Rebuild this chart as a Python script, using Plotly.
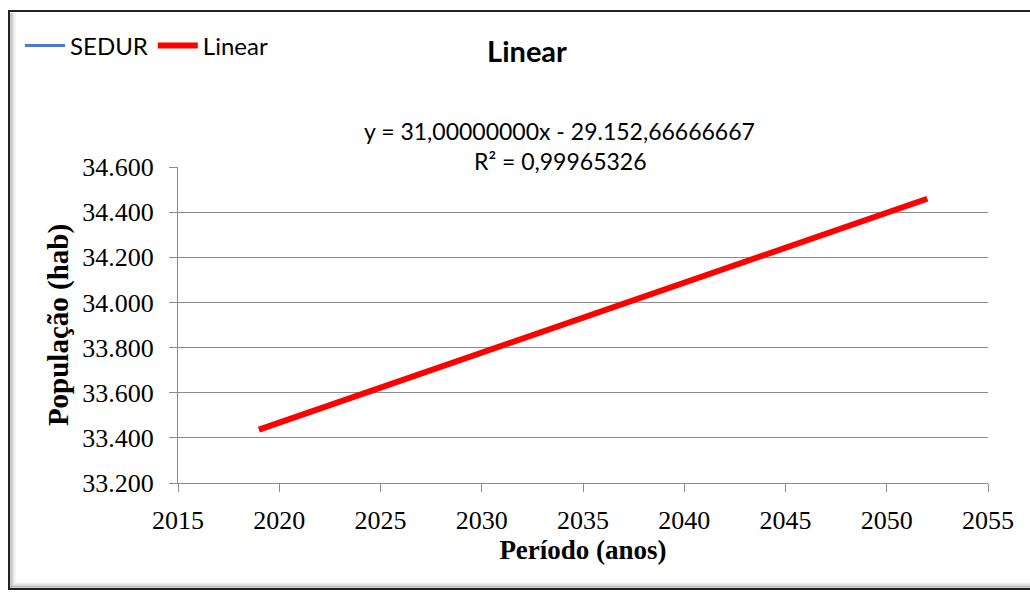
import plotly.graph_objects as go

# Population series (SEDUR) and its linear trend
anos_sedur = [2019, 2052]
pop_sedur = [33436, 34459]

coef_a = 31.00000000
coef_b = -29152.66666667
r2 = 0.99965326

anos_tend = [2019, 2052]
pop_tend = [coef_a * a + coef_b for a in anos_tend]

x_ticks = [2015, 2020, 2025, 2030, 2035, 2040, 2045, 2050, 2055]
y_ticks = [33200, 33400, 33600, 33800, 34000, 34200, 34400, 34600]
y_tick_text = ["33.200", "33.400", "33.600", "33.800", "34.000", "34.200", "34.400", "34.600"]

serif = "Liberation Serif"
sans = "Lato"

fig = go.Figure()
fig.add_trace(go.Scatter(
    x=anos_sedur, y=pop_sedur, mode="lines", name="SEDUR",
    line=dict(color="#4A7CC9", width=3),
))
fig.add_trace(go.Scatter(
    x=anos_tend, y=pop_tend, mode="lines", name="Linear",
    line=dict(color="#FF0000", width=6),
))

# plot area: 178..988 px horizontally, 167..483 px vertically
L, R, T, B = 178, 42, 167, 113
W, H = 1030 - L - R, 596 - T - B


def px(x):
    return (x - L) / W


def py(y):
    return (596 - B - y) / H


shapes = []
# chart frame with soft shadow
shapes.append(dict(type="rect", xref="paper", yref="paper",
                   x0=px(9), x1=px(1040), y0=py(589), y1=py(11),
                   line=dict(color="#222222", width=2), fillcolor="rgba(0,0,0,0)", layer="below"))
for i, c in enumerate(["#9a9a9a", "#b8b8b8", "#d0d0d0", "#e2e2e2", "#efefef"]):
    shapes.append(dict(type="line", xref="paper", yref="paper",
                       x0=px(11 + i), x1=px(11 + i), y0=py(588 - i), y1=py(13),
                       line=dict(color=c, width=1), layer="below"))
    shapes.append(dict(type="line", xref="paper", yref="paper",
                       x0=px(11 + i), x1=px(1035), y0=py(587 - i), y1=py(587 - i),
                       line=dict(color=c, width=1), layer="below"))

fig.update_layout(
    width=1030, height=596,
    margin=dict(l=L, r=R, t=T, b=B),
    paper_bgcolor="white", plot_bgcolor="white",
    font=dict(family=serif, color="#000000"),
    shapes=shapes,
    title=dict(text="<b>Linear</b>", x=px(527), xref="paper", xanchor="center",
               y=1 - 52 / 596, yanchor="middle",
               font=dict(family=sans, size=29, color="#000000")),
    legend=dict(orientation="h", x=px(20), xanchor="left", y=py(46), yanchor="middle",
                font=dict(family=sans, size=24, color="#000000"),
                bgcolor="rgba(0,0,0,0)", itemwidth=40, tracegroupgap=0),
    xaxis=dict(range=[2015, 2055], tickvals=x_ticks,
               showgrid=False, zeroline=False,
               showline=True, linecolor="#8c8c8c", linewidth=1,
               ticks="outside", ticklen=8, tickcolor="#8c8c8c",
               ticklabelstandoff=6,
               tickfont=dict(family=serif, size=26, color="#000000"),
               title=dict(text="<b>Período (anos)</b>", standoff=5,
                          font=dict(family=serif, size=27, color="#000000"))),
    yaxis=dict(range=[33200, 34600], tickvals=y_ticks, ticktext=y_tick_text,
               showgrid=True, gridcolor="#8c8c8c", gridwidth=1, zeroline=False,
               showline=True, linecolor="#8c8c8c", linewidth=1,
               ticks="outside", ticklen=8, tickcolor="#8c8c8c",
               ticklabelstandoff=10,
               tickfont=dict(family=serif, size=26, color="#000000"),
               title=dict(text="<b>População (hab)</b>", standoff=5,
                          font=dict(family=serif, size=29, color="#000000"))),
    annotations=[
        dict(xref="paper", yref="paper", x=px(559), y=py(131),
             text="y = 31,00000000x - 29.152,66666667",
             showarrow=False, xanchor="center", yanchor="middle",
             font=dict(family=sans, size=23, color="#000000")),
        dict(xref="paper", yref="paper", x=px(560), y=py(161),
             text="R² = 0,99965326",
             showarrow=False, xanchor="center", yanchor="middle",
             font=dict(family=sans, size=23, color="#000000")),
    ],
)

fig.write_html("out.html")
